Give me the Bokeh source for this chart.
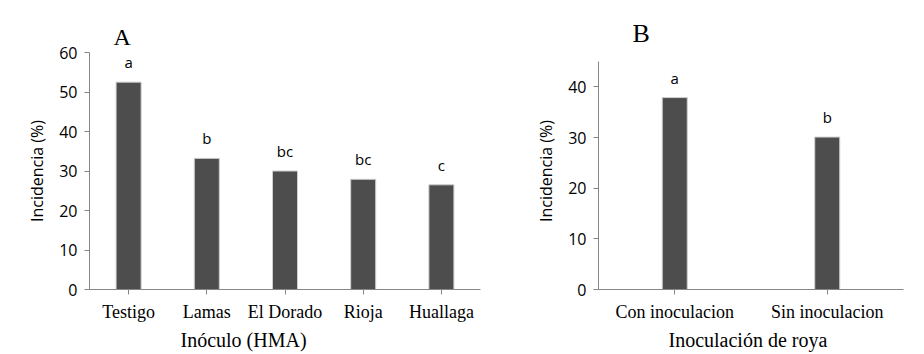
from bokeh.plotting import figure
from bokeh.layouts import row
from bokeh.models import FixedTicker, ColumnDataSource, Title
from bokeh.embed import file_html
from bokeh.resources import INLINE
from bokeh.core.properties import value

# Panel A data
inoculo = ["Testigo", "Lamas", "El Dorado", "Rioja", "Huallaga"]
incid_a = [52.5, 33.2, 30.0, 27.9, 26.5]
letras_a = ["a", "b", "bc", "bc", "c"]
ticks_a = [0, 10, 20, 30, 40, 50, 60]

# Panel B data
inoculacion = ["Con inoculacion", "Sin inoculacion"]
incid_b = [37.9, 30.1]
letras_b = ["a", "b"]
ticks_b = [0, 10, 20, 30, 40]

BAR = "#4d4d4d"
AX = "#868686"
SANS = "Open Sans"
SERIF = "Liberation Serif"


def make(cats, vals, letters, ticks, ymax, yend, width, bl, br, barw,
         title, t_size, t_off, t_stand, xlabel, l_off, l_stand):
    src = ColumnDataSource(dict(x=cats, y=vals, t=letters))
    p = figure(x_range=cats, y_range=(0, yend), width=width, height=354,
               output_backend="svg", toolbar_location=None,
               min_border_left=bl, min_border_right=br, min_border_top=52, min_border_bottom=65)
    p.outline_line_color = None
    p.grid.visible = False
    p.vbar(x="x", top="y", width=barw, source=src, fill_color=BAR, line_color="#cfcfcf", line_width=1)
    p.text(x="x", y="y", text="t", source=src, y_offset=-20, text_align="center",
           text_baseline="middle", text_font=value(SANS), text_font_size="15px", text_color="black")
    ya = p.yaxis[0]
    ya.ticker = FixedTicker(ticks=ticks)
    ya.bounds = (0, ymax)
    ya.axis_label = "Incidencia (%)"
    ya.axis_label_text_font = SANS
    ya.axis_label_text_font_style = "normal"
    ya.axis_label_text_font_size = "16px"
    ya.axis_label_text_color = "black"
    ya.axis_label_standoff = 8
    ya.major_label_text_font = SANS
    ya.major_label_text_font_size = "16px"
    ya.major_label_text_color = "black"
    ya.major_label_standoff = 7
    ya.axis_line_color = AX
    ya.major_tick_line_color = AX
    ya.major_tick_out = 5
    ya.major_tick_in = 0
    ya.minor_tick_line_color = None
    xa = p.xaxis[0]
    xa.major_label_text_font = SERIF
    xa.major_label_text_font_size = "18px"
    xa.major_label_text_color = "black"
    xa.major_label_standoff = 7
    xa.axis_line_color = AX
    xa.major_tick_line_color = AX
    xa.major_tick_out = 5
    xa.major_tick_in = 0
    # panel letter
    p.title.text = title
    p.title.text_font = SERIF
    p.title.text_font_style = "normal"
    p.title.text_font_size = t_size
    p.title.text_color = "black"
    p.title.align = "left"
    p.title.offset = t_off
    p.title.standoff = t_stand
    # x-axis title
    p.add_layout(Title(text=xlabel, align="left", offset=l_off, standoff=l_stand,
                       text_font=SERIF, text_font_style="normal", text_font_size="20px",
                       text_color="black"), "below")
    return p


pa = make(inoculo, incid_a, letras_a, ticks_a, 60, 60, 490, 89, 10, 0.32,
          "A", "24px", 24, 5, "Inóculo (HMA)", 91, 5)
pb = make(inoculacion, incid_b, letras_b, ticks_b, 45, 46.8, 434, 108, 21, 0.164,
          "B", "26px", 34, 9, "Inoculación de roya", 70, 5)

layout = row(pa, pb)
open("out.html", "w").write(file_html(layout, INLINE))
